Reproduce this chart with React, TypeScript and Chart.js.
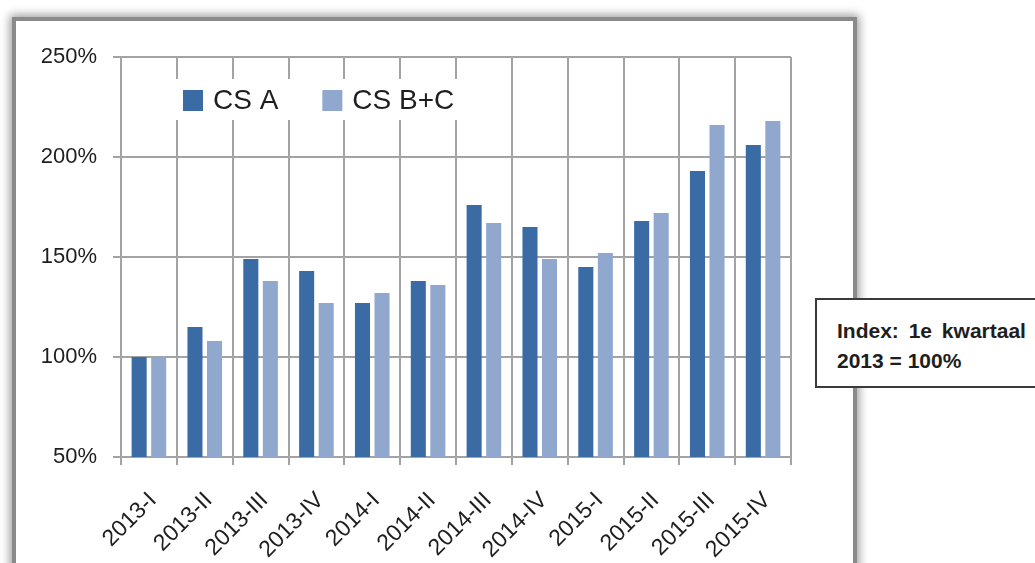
import React, { useEffect, useRef } from "react";
import { Chart, registerables } from "chart.js";

Chart.register(...registerables);

const categories = [
  "2013-I", "2013-II", "2013-III", "2013-IV",
  "2014-I", "2014-II", "2014-III", "2014-IV",
  "2015-I", "2015-II", "2015-III", "2015-IV",
];
const csA = [100, 115, 149, 143, 127, 138, 176, 165, 145, 168, 193, 206];
const csBC = [100, 108, 138, 127, 132, 136, 167, 149, 152, 172, 216, 218];
const seriesLabels = ["CS A", "CS B+C"];
const seriesColors = ["#3A6BA5", "#91A8CE"];
const yMin = 50;
const yMax = 250;
const yStep = 50;
const noteLine1 = "Index: 1e kwartaal";
const noteLine2 = "2013 = 100%";

const FONT = "'Liberation Sans', Arial, sans-serif";
const GRID = "#a3a3a6";
const TEXT = "#1e1e1e";

const insideLegend = {
  id: "insideLegend",
  afterDatasetsDraw(chart: any) {
    const { ctx, chartArea } = chart;
    const x0 = chartArea.left + 50;
    const y0 = chartArea.top + 22;
    ctx.save();
    ctx.fillStyle = "#ffffff";
    ctx.fillRect(x0, y0, 292, 41);
    ctx.font = `28px ${FONT}`;
    ctx.textBaseline = "middle";
    ctx.textAlign = "left";
    let x = x0 + 12;
    chart.data.datasets.forEach((ds: any) => {
      ctx.fillStyle = ds.backgroundColor;
      ctx.fillRect(x, y0 + 11, 20, 21);
      ctx.fillStyle = TEXT;
      ctx.fillText(ds.label, x + 30, y0 + 22);
      x += 30 + ctx.measureText(ds.label).width + 44;
    });
    ctx.restore();
  },
};

function BarChart() {
  const ref = useRef<HTMLCanvasElement | null>(null);
  useEffect(() => {
    if (!ref.current) return;
    const chart = new Chart(ref.current, {
      type: "bar",
      data: {
        labels: categories,
        datasets: [
          {
            label: seriesLabels[0],
            data: csA,
            backgroundColor: seriesColors[0],
            borderWidth: 0,
            categoryPercentage: 0.7,
            barPercentage: 0.77,
          },
          {
            label: seriesLabels[1],
            data: csBC,
            backgroundColor: seriesColors[1],
            borderWidth: 0,
            categoryPercentage: 0.7,
            barPercentage: 0.77,
          },
        ],
      },
      options: {
        responsive: false,
        animation: false,
        layout: { padding: { left: 0, top: 57, right: 244, bottom: 0 } },
        plugins: {
          legend: { display: false },
          tooltip: { enabled: false },
        },
        scales: {
          x: {
            grid: {
              offset: true,
              color: GRID,
              lineWidth: 2,
              tickLength: 8,
              drawTicks: true,
            },
            border: { color: GRID, width: 2 },
            ticks: {
              color: TEXT,
              font: { family: FONT, size: 23 },
              minRotation: 45,
              maxRotation: 45,
              padding: 22,
              labelOffset: 4,
              autoSkip: false,
            },
            afterFit(scale: any) {
              scale.height = 106;
            },
          },
          y: {
            min: yMin,
            max: yMax,
            grid: {
              color: GRID,
              lineWidth: 2,
              tickLength: 8,
            },
            border: { color: GRID, width: 2 },
            ticks: {
              stepSize: yStep,
              color: TEXT,
              font: { family: FONT, size: 22 },
              padding: 16,
              callback: (v: any) => `${v}%`,
            },
            afterFit(scale: any) {
              scale.width = 121;
            },
          },
        },
      },
      plugins: [insideLegend],
    });
    return () => chart.destroy();
  }, []);
  return (
    <canvas
      ref={ref}
      width={1035}
      height={563}
      style={{ position: "absolute", left: 0, top: 0, width: 1035, height: 563 }}
    />
  );
}

export default function App() {
  return (
    <div
      style={{
        position: "fixed",
        left: 0,
        top: 0,
        width: 1035,
        height: 563,
        overflow: "hidden",
        background: "#ffffff",
      }}
    >
      <div
        style={{
          position: "absolute",
          left: 12,
          top: 17,
          width: 845,
          height: 640,
          boxSizing: "border-box",
          border: "4px solid #8a8a8a",
          background: "#ffffff",
          boxShadow: "0 0 9px 2px rgba(0,0,0,0.4)",
        }}
      />
      <BarChart />
      <div
        style={{
          position: "absolute",
          left: 815,
          top: 298,
          width: 240,
          height: 90,
          boxSizing: "border-box",
          border: "2px solid #3a3a3a",
          background: "#ffffff",
          fontFamily: FONT,
          fontWeight: "bold",
          fontSize: 21,
          color: TEXT,
          paddingLeft: 20,
          paddingTop: 16,
          lineHeight: "30px",
          whiteSpace: "nowrap",
        }}
      >
        <div style={{ wordSpacing: 4 }}>{noteLine1}</div>
        <div>{noteLine2}</div>
      </div>
    </div>
  );
}
